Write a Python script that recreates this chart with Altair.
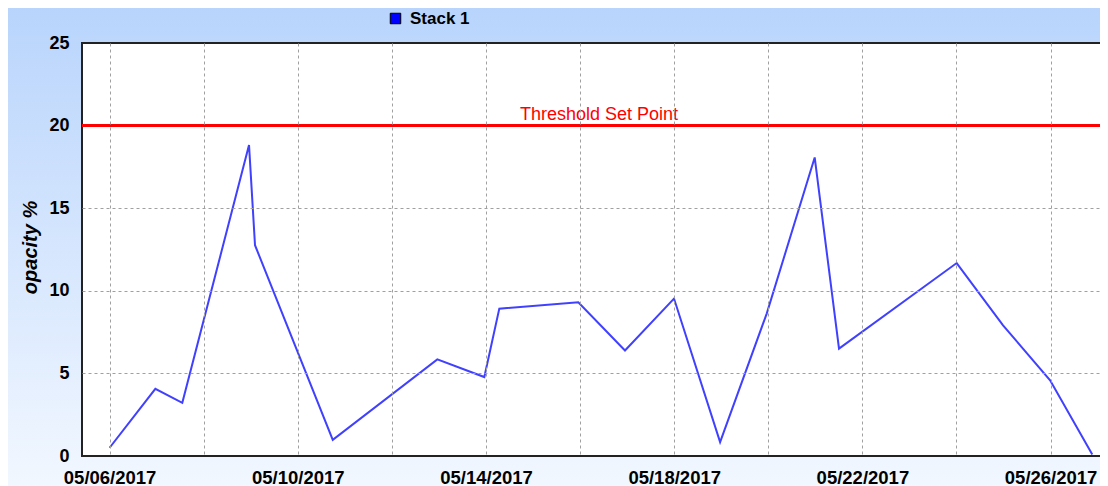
import altair as alt
import pandas as pd

# ---- data ----
dates = ["2017-05-06T00:00", "2017-05-06T23:20", "2017-05-07T13:05", "2017-05-08T23:07",
         "2017-05-09T02:10", "2017-05-10T17:50", "2017-05-12T23:10", "2017-05-13T23:08",
         "2017-05-14T06:47", "2017-05-15T23:05", "2017-05-16T22:54", "2017-05-17T23:54",
         "2017-05-18T23:25", "2017-05-19T23:11", "2017-05-20T23:40", "2017-05-21T12:04",
         "2017-05-24T00:06", "2017-05-24T23:45", "2017-05-25T23:45", "2017-05-26T21:16"]
opacity = [0.50, 4.07, 3.22, 18.82, 12.76, 0.98, 5.85, 4.78, 8.92, 9.30,
           6.39, 9.53, 0.84, 8.62, 18.07, 6.50, 11.68, 7.91, 4.58, 0.09]
series_name = "Stack 1"
threshold = [20]
threshold_label = ["Threshold Set Point"]
y_ticks = [0, 5, 10, 15, 20, 25]
grid_days = list(range(6, 27, 2))

FONT = "Liberation Sans"
W, H = 1018, 413

df = pd.DataFrame({
    "date": [d + ":00Z" for d in dates],
    "opacity": opacity,
    "series": [series_name] * len(dates),
})
thr = pd.DataFrame({"v": threshold, "label": threshold_label})
one = pd.DataFrame({"k": [0]})

x_scale = alt.Scale(
    type="utc",
    domain=[alt.DateTime(year=2017, month=5, date=5, hours=9, minutes=55, utc=True),
            alt.DateTime(year=2017, month=5, date=27, hours=1, minutes=12, utc=True)],
)
y_scale = alt.Scale(domain=[0, 25], nice=False)

x_axis = alt.Axis(
    values=[alt.DateTime(year=2017, month=5, date=d, utc=True) for d in grid_days],
    labelExpr="(round((datum.value - utc(2017,4,6)) / 86400000) % 4 == 0) ? utcFormat(datum.value, '%m/%d/%Y') : ''",
    title=None, ticks=False, domain=False, grid=True,
    gridColor="#a0a0a0", gridDash=[3, 3], gridWidth=1,
    labelFont=FONT, labelFontSize=18.5, labelFontWeight="bold", labelColor="#000",
    labelPadding=12, labelOverlap=False, labelFlush=False, labelBound=False, zindex=1,
)
y_axis = alt.Axis(
    values=y_ticks, title="opacity %", ticks=False, domain=False, grid=True,
    gridColor="#a0a0a0", gridDash=[3, 3], gridWidth=1,
    gridOpacity={"condition": {"test": "datum.value == 0 || datum.value >= 20", "value": 0}, "value": 1},
    labelFont=FONT, labelFontSize=18, labelFontWeight="bold", labelColor="#000",
    labelPadding=13, titleFont=FONT, titleFontSize=20, titleFontWeight="bold",
    titleFontStyle="italic", titleColor="#000", titleX=-52, titleY=204,
    titleBaseline="middle", titleAlign="center", zindex=1,
)

gradient = {
    "gradient": "linear", "x1": 0, "y1": 0, "x2": 0, "y2": 1,
    "stops": [{"offset": 0, "color": "#b8d4fc"}, {"offset": 1, "color": "#f3f8ff"}],
}

bg = alt.Chart(one).mark_rect(fill=gradient).encode(
    x=alt.value(-80), x2=alt.value(W + 40), y=alt.value(-40), y2=alt.value(H + 40)
)
plot_bg = alt.Chart(one).mark_rect(fill="white", stroke="#222", strokeWidth=2).encode(
    x=alt.value(0), x2=alt.value(W + 30), y=alt.value(0), y2=alt.value(H)
)

rule = alt.Chart(thr).mark_rule(color="#ff0000", strokeWidth=3).encode(
    y=alt.Y("v:Q", scale=y_scale, axis=y_axis)
)
rule_text = alt.Chart(thr).mark_text(
    color="#ff0000", font=FONT, fontSize=18, align="center", baseline="alphabetic", dy=-6
).encode(x=alt.value(517), y=alt.Y("v:Q", scale=y_scale), text="label:N")

line = alt.Chart(df).mark_line(strokeWidth=2, color="#4040ff").encode(
    x=alt.X("date:T", scale=x_scale, axis=x_axis),
    y=alt.Y("opacity:Q", scale=y_scale, axis=y_axis),
)

# legend only: a square-symbol layer with no rows, whose fill scale gives the legend
legend_layer = alt.Chart(df.head(0)).mark_point(
    shape="square", filled=True, stroke="#000000", strokeWidth=1
).encode(
    fill=alt.Fill(
        "series:N",
        scale=alt.Scale(domain=[series_name], range=["#0000ff"]),
        legend=alt.Legend(
            title=None, orient="none", legendX=305, legendY=-33, padding=0,
            symbolType="square", symbolSize=110,
            symbolStrokeColor="#000000", symbolStrokeWidth=1, symbolOpacity=1,
            labelFont=FONT, labelFontSize=17, labelFontWeight="bold", labelColor="#000",
            labelOffset=6,
        ),
    ),
)

chart = alt.layer(bg, plot_bg, rule, rule_text, line, legend_layer).properties(
    width=W, height=H,
    autosize=alt.AutoSizeParams(type="none"),
    padding={"left": 74, "top": 35, "right": 0, "bottom": 40},
).configure_view(stroke="transparent").configure(background="transparent")

chart.save("out.html", embed_options={"renderer": "svg", "actions": False})
